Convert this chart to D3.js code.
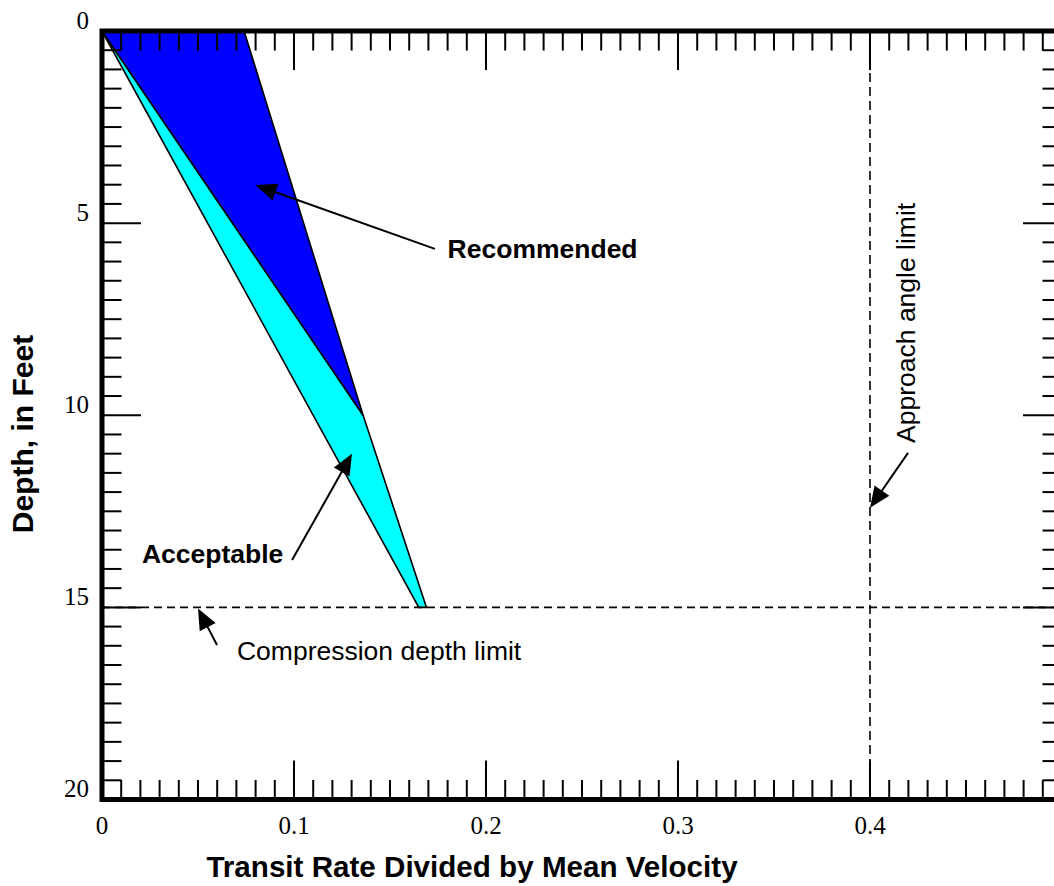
<!DOCTYPE html>
<html>
<head>
<meta charset="utf-8">
<script src="https://cdn.jsdelivr.net/npm/d3@7"></script>
<style>
  html, body { margin: 0; padding: 0; background: #fff; }
  svg { display: block; }
</style>
</head>
<body>
<svg id="chart" width="1054" height="886"></svg>
<script>
// ---- data ----
const recommendedZone = [[0, 0], [0.074, 0], [0.136, 10]];
const acceptableZone = [[0, 0], [0.136, 10], [0.169, 15], [0.165, 15]];
const compressionDepthLimit = 15;
const approachAngleLimit = 0.4;
const xMajorTicks = [0, 0.1, 0.2, 0.3, 0.4, 0.5];
const xTickLabels = ["0", "0.1", "0.2", "0.3", "0.4"];
const yMajorTicks = [0, 5, 10, 15, 20];
const yTickLabels = ["0", "5", "10", "15", "20"];
const xMinorStep = 0.01;
const yMinorStep = 0.5;
const xTitle = "Transit Rate Divided by Mean Velocity";
const yTitle = "Depth, in Feet";
// annotations: text position, arrow tail, arrow tip (data units)
const annotations = [
  { text: "Recommended", tx: 0.180, ty: 5.9, bold: true, rotate: false, tail: [0.1734, 5.67], tip: [0.080, 4.01] },
  { text: "Acceptable", tx: 0.0208, ty: 13.85, bold: true, rotate: false, tail: [0.099, 13.77], tip: [0.1302, 11.0] },
  { text: "Compression depth limit", tx: 0.0703, ty: 16.37, bold: false, rotate: false, tail: [0.0599, 15.98], tip: [0.050, 15.03] },
  { text: "Approach angle limit", tx: 0.4234, ty: 10.72, bold: false, rotate: true, tail: [0.4198, 10.98], tip: [0.400, 12.41] }
];

// ---- layout ----
const svg = d3.select("#chart");
const x = d3.scaleLinear().domain([0, 0.5]).range([102, 1062]);
const y = d3.scaleLinear().domain([0, 20]).range([31, 799.5]);
const sans = "'Liberation Sans', Arial, sans-serif";
const serif = "'Liberation Serif', 'Times New Roman', serif";

// zones
const line = d3.line().x(d => x(d[0])).y(d => y(d[1]));
svg.append("path").attr("d", line(acceptableZone) + "Z")
  .attr("fill", "#00FFFF").attr("stroke", "#000").attr("stroke-width", 1.6).attr("stroke-linejoin", "miter");
svg.append("path").attr("d", line(recommendedZone) + "Z")
  .attr("fill", "#0000FF").attr("stroke", "#000").attr("stroke-width", 1.6);

// dashed limit lines
svg.append("line")
  .attr("x1", x(0)).attr("x2", x(0.5))
  .attr("y1", y(compressionDepthLimit)).attr("y2", y(compressionDepthLimit))
  .attr("stroke", "#000").attr("stroke-width", 1.6).attr("stroke-dasharray", "8,5");
svg.append("line")
  .attr("x1", x(approachAngleLimit)).attr("x2", x(approachAngleLimit))
  .attr("y1", y(0)).attr("y2", y(20))
  .attr("stroke", "#000").attr("stroke-width", 1.6).attr("stroke-dasharray", "9,5");

// ticks
const ticksG = svg.append("g").attr("stroke", "#000").attr("stroke-width", 2);
const xMinor = d3.range(0, 0.5 + 1e-9, xMinorStep).map(v => +v.toFixed(2));
const yMinor = d3.range(0, 20 + 1e-9, yMinorStep);
const isMajorX = v => xMajorTicks.some(m => Math.abs(m - v) < 1e-6);
const isMajorY = v => yMajorTicks.some(m => Math.abs(m - v) < 1e-6);
xMinor.forEach(v => {
  const len = isMajorX(v) ? 39 : 19.5;
  ticksG.append("line").attr("x1", x(v)).attr("x2", x(v)).attr("y1", y(0)).attr("y2", y(0) + len);
  ticksG.append("line").attr("x1", x(v)).attr("x2", x(v)).attr("y1", y(20)).attr("y2", y(20) - len);
});
yMinor.forEach(v => {
  const len = isMajorY(v) ? 39 : 19.5;
  ticksG.append("line").attr("y1", y(v)).attr("y2", y(v)).attr("x1", x(0)).attr("x2", x(0) + len);
  ticksG.append("line").attr("y1", y(v)).attr("y2", y(v)).attr("x1", x(0.5)).attr("x2", x(0.5) - len);
});

// frame
svg.append("rect")
  .attr("x", x(0)).attr("y", y(0))
  .attr("width", x(0.5) - x(0)).attr("height", y(20) - y(0))
  .attr("fill", "none").attr("stroke", "#000").attr("stroke-width", 5);

// tick labels
svg.append("g").selectAll("text").data(xTickLabels).join("text")
  .attr("x", (d, i) => x(xMajorTicks[i])).attr("y", 834)
  .attr("text-anchor", "middle")
  .attr("font-family", serif).attr("font-size", 25).text(d => d);
svg.append("g").selectAll("text").data(yTickLabels).join("text")
  .attr("x", 89).attr("y", (d, i) => y(yMajorTicks[i]) - 2.5)
  .attr("text-anchor", "end")
  .attr("font-family", serif).attr("font-size", 25).text(d => d);

// axis titles
svg.append("text").attr("x", 472).attr("y", 877)
  .attr("text-anchor", "middle").attr("font-family", sans).attr("font-weight", "bold")
  .attr("font-size", 29.6).text(xTitle);
svg.append("text").attr("transform", "translate(33,434) rotate(-90)")
  .attr("text-anchor", "middle").attr("font-family", sans).attr("font-weight", "bold")
  .attr("font-size", 30).text(yTitle);

// annotations
const annG = svg.append("g");
annotations.forEach(a => {
  const [x1, y1] = [x(a.tail[0]), y(a.tail[1])];
  const [x2, y2] = [x(a.tip[0]), y(a.tip[1])];
  const dx = x2 - x1, dy = y2 - y1, L = Math.hypot(dx, dy);
  const ux = dx / L, uy = dy / L;
  const headLen = 21, headHalf = 9;
  const bx = x2 - ux * headLen, by = y2 - uy * headLen;
  annG.append("line").attr("x1", x1).attr("y1", y1).attr("x2", bx + ux * 2).attr("y2", by + uy * 2)
    .attr("stroke", "#000").attr("stroke-width", 2);
  annG.append("path")
    .attr("d", `M${x2},${y2}L${bx - uy * headHalf},${by + ux * headHalf}L${bx + uy * headHalf},${by - ux * headHalf}Z`)
    .attr("fill", "#000");
  const t = annG.append("text").attr("font-family", sans).attr("font-size", 26.5)
    .attr("font-weight", a.bold ? "bold" : "normal").text(a.text);
  if (a.rotate) {
    t.attr("transform", `translate(${x(a.tx)},${y(a.ty)}) rotate(-90)`);
  } else {
    t.attr("x", x(a.tx)).attr("y", y(a.ty));
  }
});
</script>
</body>
</html>
